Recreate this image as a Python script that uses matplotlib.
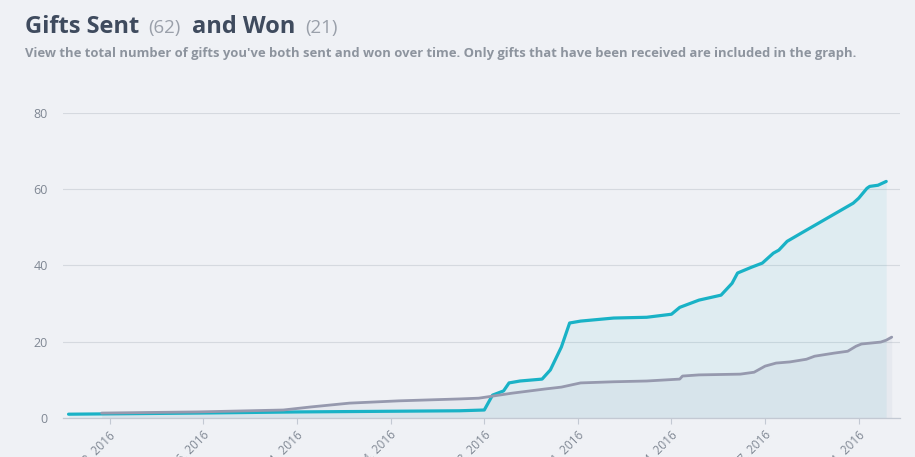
import pandas as pd
import matplotlib.pyplot as plt
from matplotlib.transforms import ScaledTranslation

# Gifts sent over time (cumulative)
sent_dates = ['2015-12-29', '2016-02-14', '2016-03-22', '2016-05-19', '2016-05-28',
              '2016-05-31', '2016-06-04', '2016-06-06', '2016-06-10', '2016-06-18',
              '2016-06-21', '2016-06-25', '2016-06-28', '2016-07-02', '2016-07-14',
              '2016-07-26', '2016-08-04', '2016-08-07', '2016-08-14', '2016-08-22',
              '2016-08-26', '2016-08-28', '2016-09-02', '2016-09-06', '2016-09-10',
              '2016-09-12', '2016-09-15', '2016-09-20', '2016-10-09', '2016-10-11',
              '2016-10-14', '2016-10-15', '2016-10-18', '2016-10-21']
sent_values = [1.0, 1.3, 1.6, 1.9, 2.1, 6.0, 7.1, 9.2, 9.7, 10.2,
               12.6, 18.6, 24.9, 25.4, 26.2, 26.4, 27.2, 29.0, 30.9, 32.2,
               35.3, 38.0, 39.5, 40.6, 43.2, 44.0, 46.3, 48.4, 56.3, 57.6,
               60.2, 60.7, 61.0, 62.0]

# Gifts won over time (cumulative)
won_dates = ['2016-01-10', '2016-02-14', '2016-03-16', '2016-03-26', '2016-04-09',
             '2016-04-27', '2016-05-19', '2016-05-26', '2016-06-07', '2016-06-19',
             '2016-06-25', '2016-07-02', '2016-07-14', '2016-07-26', '2016-08-07',
             '2016-08-08', '2016-08-14', '2016-08-29', '2016-09-03', '2016-09-07',
             '2016-09-11', '2016-09-16', '2016-09-22', '2016-09-25', '2016-10-02',
             '2016-10-07', '2016-10-10', '2016-10-12', '2016-10-19', '2016-10-21',
             '2016-10-23']
won_values = [1.3, 1.6, 2.1, 2.9, 3.9, 4.5, 5.0, 5.2, 6.5, 7.6,
              8.1, 9.2, 9.5, 9.7, 10.2, 11.0, 11.3, 11.5, 12.0, 13.6,
              14.4, 14.7, 15.4, 16.2, 17.0, 17.5, 18.8, 19.4, 19.9, 20.4,
              21.2]

tick_dates = ['2016-01-13', '2016-02-16', '2016-03-21', '2016-04-24', '2016-05-28',
              '2016-07-01', '2016-08-04', '2016-09-07', '2016-10-11']
y_ticks = [0, 20, 40, 60, 80]

total_sent = 62
total_won = 21

BG = '#eff1f5'
TEAL = '#19b2c6'
GREY = '#9699ae'
DARK = '#3f4b5e'
LIGHT = '#9aa0aa'

plt.rcParams['font.family'] = ['Open Sans', 'DejaVu Sans']

fig = plt.figure(figsize=(9.15, 4.57), dpi=100, facecolor=BG)
ax = fig.add_axes([0.0689, 0.0853, 0.9147, 0.668])
ax.set_facecolor(BG)

xs = pd.to_datetime(sent_dates)
xw = pd.to_datetime(won_dates)

ax.fill_between(xs, 0, sent_values, color=TEAL, alpha=0.07, lw=0)
ax.fill_between(xw, 0, won_values, color='#8f9bb3', alpha=0.09, lw=0)
ax.plot(xs, sent_values, color=TEAL, lw=2.3, solid_capstyle='round', zorder=3)
ax.plot(xw, won_values, color=GREY, lw=2.0, solid_capstyle='round', zorder=4)

ax.set_xlim(pd.Timestamp('2015-12-27'), pd.Timestamp('2016-10-26'))
ax.set_ylim(0, 80)
ax.set_yticks(y_ticks)
ax.grid(axis='y', color='#d5d9df', lw=0.8)
ax.set_axisbelow(True)

ticks = pd.to_datetime(tick_dates)
ax.set_xticks(ticks)
ax.set_xticklabels([t.strftime('%b ') + str(t.day) + t.strftime(', %Y') for t in ticks],
                   rotation=45, ha='right', va='center', rotation_mode='anchor')
ax.tick_params(axis='x', colors='#c3c9d3', labelcolor='#7f8793', labelsize=8.5,
               length=4.5, width=0.8, pad=2)
ax.tick_params(axis='y', length=0, labelcolor='#7f8793', labelsize=9, pad=11)
shift = ScaledTranslation(4 / 100, -6 / 100, fig.dpi_scale_trans)
for lab in ax.get_xticklabels():
    lab.set_transform(lab.get_transform() + shift)

for s in ['top', 'right', 'left']:
    ax.spines[s].set_visible(False)
ax.spines['bottom'].set_color('#c3c9d3')
ax.spines['bottom'].set_linewidth(0.9)

# title made of pieces with different styles
fig.canvas.draw()
renderer = fig.canvas.get_renderer()
x = 25 / 915
y = 1 - 33 / 457
pieces = [('Gifts Sent', 17, 'bold', DARK, 9),
          ('(%d)' % total_sent, 13.5, 'normal', LIGHT, 11),
          ('and Won', 17, 'bold', DARK, 10),
          ('(%d)' % total_won, 13.5, 'normal', LIGHT, 0)]
for txt, size, weight, col, gap in pieces:
    t = fig.text(x, y, txt, fontsize=size, fontweight=weight, color=col,
                 ha='left', va='baseline')
    bb = t.get_window_extent(renderer)
    x = (bb.x1 + gap) / 915

fig.text(25 / 915, 1 - 57 / 457,
         "View the total number of gifts you've both sent and won over time. "
         "Only gifts that have been received are included in the graph.",
         fontsize=9.35, fontweight='bold', color='#8d949e', ha='left', va='baseline')

fig.savefig('out.png', dpi=100, facecolor=BG)
